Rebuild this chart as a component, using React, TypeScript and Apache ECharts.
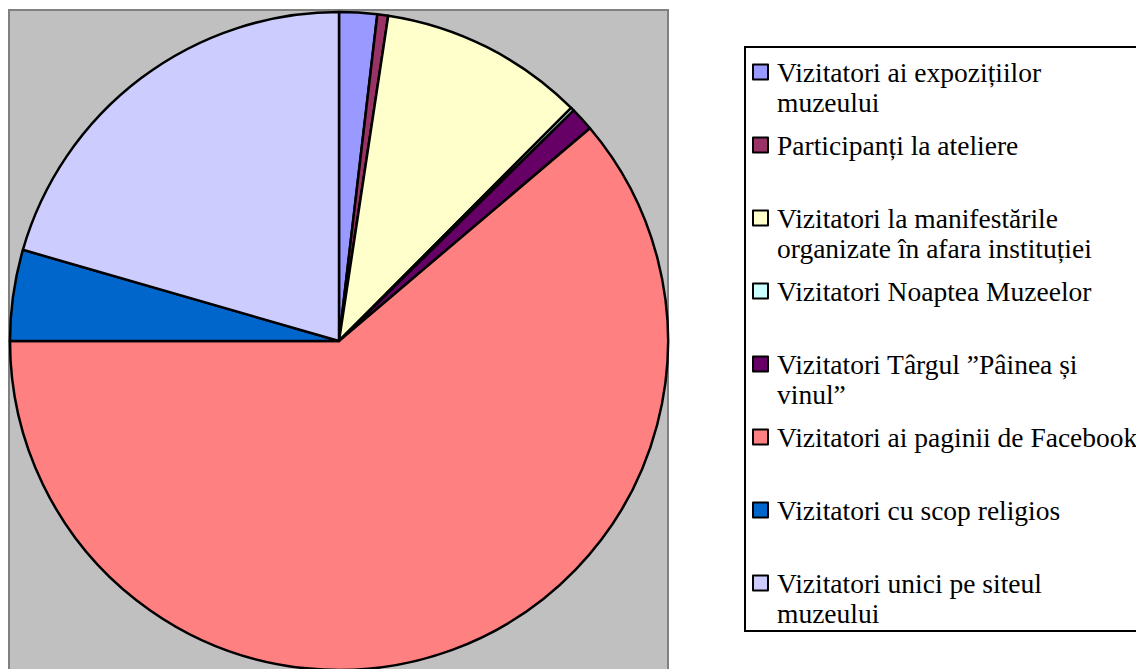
import React, { useEffect, useRef } from "react";
import * as echarts from "echarts";

const categories = [
  "Vizitatori ai expozițiilor muzeului",
  "Participanți la ateliere",
  "Vizitatori la manifestările organizate în afara instituției",
  "Vizitatori Noaptea Muzeelor",
  "Vizitatori Târgul ”Pâinea și vinul”",
  "Vizitatori ai paginii de Facebook",
  "Vizitatori cu scop religios",
  "Vizitatori unici pe siteul muzeului",
];

const legendLabels = [
  "Vizitatori ai expozițiilor\nmuzeului",
  "Participanți la ateliere\n",
  "Vizitatori la manifestările\norganizate în afara instituției",
  "Vizitatori Noaptea Muzeelor\n",
  "Vizitatori Târgul ”Pâinea și\nvinul”",
  "Vizitatori ai paginii de Facebook\n",
  "Vizitatori cu scop religios\n",
  "Vizitatori unici pe siteul\nmuzeului",
];

const values = [1.86, 0.53, 10.08, 0.17, 1.17, 61.19, 4.47, 20.53];

const colors = [
  "#9999FF",
  "#993366",
  "#FFFFCC",
  "#CCFFFF",
  "#660066",
  "#FF8080",
  "#0066CC",
  "#CCCCFF",
];

export default function App() {
  const ref = useRef<HTMLDivElement>(null);
  useEffect(() => {
    document.body.style.margin = "0";
    document.body.style.overflow = "hidden";
    const chart = echarts.init(ref.current!, null, { renderer: "svg" });
    chart.setOption({
      animation: false,
      backgroundColor: "#FFFFFF",
      color: colors,
      graphic: [
        {
          type: "rect",
          z: -10,
          shape: { x: 9, y: 10, width: 659, height: 700 },
          style: { fill: "#C0C0C0", stroke: "#808080", lineWidth: 2 },
        },
        {
          type: "rect",
          z: -10,
          shape: { x: 745, y: 47, width: 420, height: 584 },
          style: { fill: "#FFFFFF", stroke: "#000000", lineWidth: 2 },
        },
      ],
      legend: {
        orient: "vertical",
        left: 752,
        top: 27,
        padding: 0,
        itemWidth: 15,
        itemHeight: 15,
        itemGap: -17,
        icon: "rect",
        selectedMode: false,
        itemStyle: { borderColor: "#000000", borderWidth: 2 },
        formatter: (name: string) => "\n" + legendLabels[categories.indexOf(name)],
        textStyle: {
          fontFamily: "Liberation Serif",
          fontSize: 27.5,
          lineHeight: 30,
          color: "#000000",
          padding: [0, 0, 0, 4],
        },
        data: categories,
      },
      series: [
        {
          type: "pie",
          center: [339, 341],
          radius: 329,
          startAngle: 90,
          clockwise: true,
          label: { show: false },
          labelLine: { show: false },
          emphasis: { disabled: true },
          itemStyle: { borderColor: "#000000", borderWidth: 2.5 },
          data: categories.map((name, i) => ({ name, value: values[i] })),
        },
      ],
    });
    return () => chart.dispose();
  }, []);
  return <div ref={ref} style={{ width: 1136, height: 669 }} />;
}
